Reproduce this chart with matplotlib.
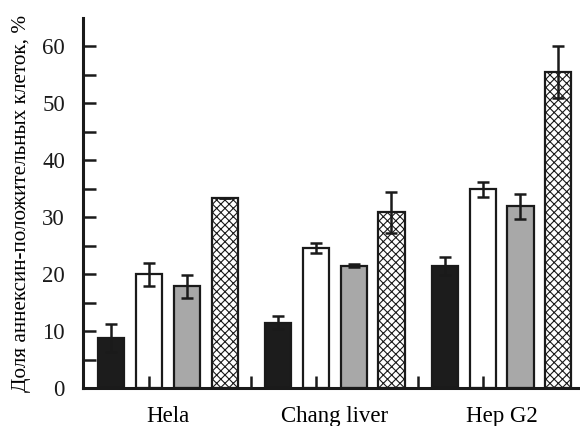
import matplotlib
matplotlib.use("Agg")
import matplotlib.pyplot as plt
import numpy as np

plt.rcParams['font.family'] = ['Liberation Serif', 'DejaVu Serif']
plt.rcParams['hatch.linewidth'] = 0.8

categories = ["Hela", "Chang liver", "Hep G2"]
s1 = [8.8, 11.5, 21.4]
e1 = [2.5, 1.1, 1.6]
s2 = [20.0, 24.6, 34.9]
e2 = [2.0, 0.85, 1.3]
s3 = [17.9, 21.5, 31.9]
e3 = [2.0, 0.3, 2.2]
s4 = [33.3, 30.9, 55.5]
e4 = [0.0, 3.6, 4.5]

series = [s1, s2, s3, s4]
errs = [e1, e2, e3, e4]
faces = ["#1c1c1c", "white", "#a8a8a8", "white"]
hatches = [None, None, None, "xxxx"]

fig = plt.figure(figsize=(5.8, 4.26), dpi=100)
ax = fig.add_axes([0.143, 0.089, 0.857, 0.869])
ax.set_axisbelow(False)

x = np.arange(len(categories))
pitch = 0.2265
width = 0.157
offsets = (np.arange(4) - 1.5) * pitch

for i, (vals, er) in enumerate(zip(series, errs)):
    ax.bar(x + offsets[i], vals, width=width, color=faces[i], edgecolor="#1a1a1a",
           linewidth=1.6, hatch=hatches[i], zorder=1)
    ax.errorbar(x + offsets[i], vals, yerr=er, fmt="none", ecolor="#1a1a1a",
                elinewidth=1.8, capsize=4.0, capthick=1.8, zorder=3)

ax.set_xlim(-0.51, 2.47)
ax.set_ylim(0, 65)

for sp in ["top", "right"]:
    ax.spines[sp].set_visible(False)
for sp in ["left", "bottom"]:
    ax.spines[sp].set_linewidth(2.2)
    ax.spines[sp].set_color("#1a1a1a")

ax.set_yticks(np.arange(0, 61, 10))
ax.set_yticks(np.arange(5, 61, 10), minor=True)
ax.tick_params(axis="y", which="both", direction="in", length=9, width=1.8,
               labelsize=16.5, pad=13, colors="#1a1a1a")

ax.set_xticks(x)
ax.set_xticklabels(categories)
ax.tick_params(axis="x", which="major", length=0, labelsize=16.5, pad=13)
minor_x = [x[0] + offsets[1], 0.5, x[1] + offsets[1], 1.5, x[2] + offsets[1]]
ax.set_xticks(minor_x, minor=True)
ax.tick_params(axis="x", which="minor", direction="in", length=9, width=1.8, color="#1a1a1a")

ax.set_ylabel("Доля аннексин-положительных клеток, %", fontsize=15.3, labelpad=8)

fig.savefig("out.png", dpi=100)
